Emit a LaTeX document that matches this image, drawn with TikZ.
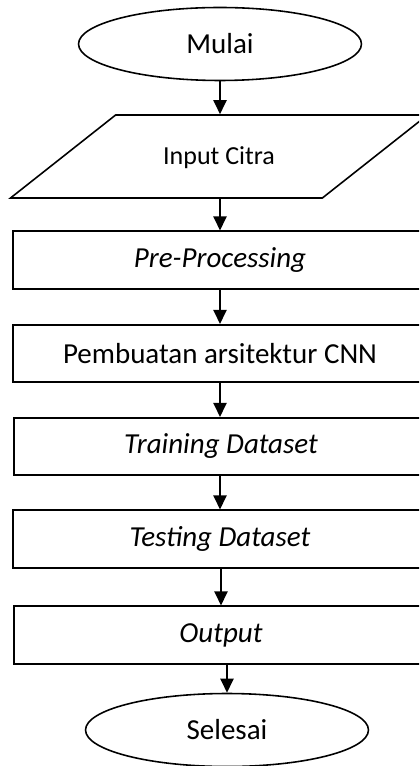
\documentclass[tikz,border=0pt]{standalone}
\usepackage{fontspec}
\setmainfont{Carlito}
\usetikzlibrary{shapes,arrows.meta,positioning}

\begin{document}
\begin{tikzpicture}[
        x=0.02cm, y=-0.02cm,
        line width=0.9pt,
        startstop/.style={ellipse, draw, minimum width=5.66cm, minimum height=1.46cm, inner sep=0pt, font=\fontsize{16.5}{19}\selectfont},
        io/.style={trapezium, trapezium left angle=38.3, trapezium right angle=141.7, trapezium stretches body=true, draw, minimum width=8.34cm, text height=0.5cm, text depth=0.16cm, inner ysep=0.5cm, inner xsep=0pt, font=\fontsize{14.8}{17}\selectfont},
        process/.style={rectangle, draw, minimum width=8.28cm, minimum height=1.15cm, inner sep=0pt, font=\fontsize{16.5}{19}\selectfont},
        arrow/.style={-{Triangle[width=7.5pt,length=8pt]}}
    ]
        \useasboundingbox (0,0) rectangle (419,766);
        \clip (0,0) rectangle (419,766);

        % Start
        \node[startstop] (mulai) at (220,44) {Mulai};

        % Input
        \node[io] (input) at (219,156.5) {Input Citra};

        % Process steps
        \node[process] (prep) at (220,260) {\textit{Pre-Processing}};
        \node[process] (cnn) at (220,353.5) {Pembuatan arsitektur CNN};
        \node[process] (train) at (221,446.5) {\textit{Training Dataset}};
        \node[process] (test) at (220,539) {\textit{Testing Dataset}};
        \node[process] (out) at (221,635) {\textit{Output}};

        % End
        \node[startstop] (selesai) at (227,730) {Selesai};

        % Connections
        \draw[arrow] (mulai) -- (mulai |- input.north);
        \draw[arrow] (input.south -| prep) -- (prep);
        \draw[arrow] (prep) -- (cnn);
        \draw[arrow] (cnn) -- (cnn |- train.north);
        \draw[arrow] (train.south -| test) -- (test);
        \draw[arrow] (test.south -| out) -- (out);
        \draw[arrow] (selesai |- out.south) -- (selesai);
    \end{tikzpicture}
\end{document}
